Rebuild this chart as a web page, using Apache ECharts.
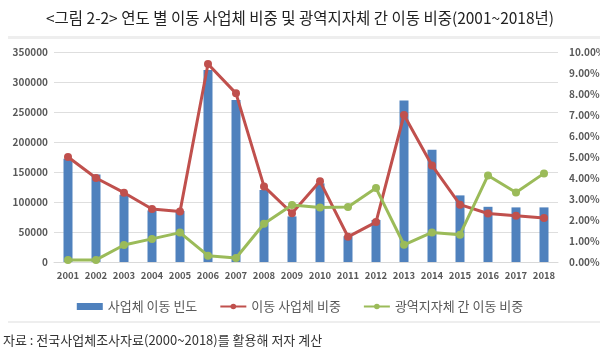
<!DOCTYPE html>
<html>
<head>
<meta charset="utf-8">
<script src="https://cdn.jsdelivr.net/npm/echarts@6/dist/echarts.min.js"></script>
<style>
html,body{margin:0;padding:0;background:#fff;}
#c{width:600px;height:355px;}
</style>
</head>
<body>
<div id="c"></div>
<script>
var years = ['2001','2002','2003','2004','2005','2006','2007','2008','2009','2010','2011','2012','2013','2014','2015','2016','2017','2018'];
var moveCount = [172000,146000,112000,86000,85000,320000,270000,120000,76000,131000,43000,70000,269000,187000,111000,92000,91000,91000];
var moveShare = [5.0,4.0,3.3,2.52,2.4,9.43,8.03,3.6,2.32,3.84,1.2,1.9,7.0,4.6,2.73,2.31,2.2,2.1];
var regionShare = [0.1,0.1,0.81,1.1,1.4,0.3,0.19,1.82,2.71,2.6,2.62,3.52,0.82,1.41,1.3,4.12,3.31,4.22];
var leftTicks = {min:0, max:350000, interval:50000};
var rightTicks = {min:0, max:10, interval:1};

var titleText = '<그림 2-2> 연도 별 이동 사업체 비중 및 광역지자체 간 이동 비중(2001~2018년)';
var sourceText = '자료 : 전국사업체조사자료(2000~2018)를 활용해 저자 계산';
var names = ['사업체 이동 빈도','이동 사업체 비중','광역지자체 간 이동 비중'];

var font = '"Noto Sans CJK KR", "Noto Sans", sans-serif';
var chart = echarts.init(document.getElementById('c'), null, {renderer:'canvas'});
chart.setOption({
  animation:false,
  textStyle:{fontFamily:font},
  title:{
    text:titleText, left:'center', top:5,
    textStyle:{fontSize:15.5, fontWeight:'normal', color:'#222', fontFamily:font}
  },
  graphic:[
    {type:'rect', shape:{x:8, y:36, width:592, height:3}, style:{fill:'#eeeeee'}},
    {type:'rect', shape:{x:8, y:321, width:592, height:2}, style:{fill:'#eeeeee'}},
    {type:'text', left:3, top:334, style:{text:sourceText, fontSize:13, fill:'#333', fontFamily:font}}
  ],
  grid:{left:54, right:42, top:52, bottom:93, containLabel:false, outerBoundsMode:'none'},
  legend:{
    top:295, left:'center', itemGap:22, itemWidth:26, itemHeight:7,
    textStyle:{fontSize:13, color:'#595959', fontFamily:font},
    data:[
      {name:names[0], icon:'rect'},
      {name:names[1]},
      {name:names[2]}
    ]
  },
  xAxis:{
    type:'category', data:years,
    axisLine:{show:true, lineStyle:{color:'#d9d9d9'}},
    axisTick:{show:false},
    axisLabel:{interval:0, fontSize:9.5, fontWeight:'bold', color:'#595959', margin:9}
  },
  yAxis:[
    {type:'value', min:leftTicks.min, max:leftTicks.max, interval:leftTicks.interval,
     axisLine:{show:false}, axisTick:{show:false},
     axisLabel:{fontSize:10, fontWeight:'bold', color:'#595959', margin:6,
       formatter:function(v){return String(v);}},
     splitLine:{lineStyle:{color:'#dedede', width:1}}},
    {type:'value', min:rightTicks.min, max:rightTicks.max, interval:rightTicks.interval,
     position:'right',
     axisLine:{show:false}, axisTick:{show:false},
     axisLabel:{fontSize:10, fontWeight:'bold', color:'#595959', margin:11,
       formatter:function(v){return v.toFixed(2)+'%';}},
     splitLine:{show:false}}
  ],
  series:[
    {name:names[0], type:'bar', data:moveCount, barWidth:9, yAxisIndex:0,
     itemStyle:{color:'#4f81bd'}},
    {name:names[1], type:'line', data:moveShare, yAxisIndex:1,
     symbol:'circle', symbolSize:8, showAllSymbol:true,
     lineStyle:{color:'#c0504d', width:3}, itemStyle:{color:'#c0504d'}},
    {name:names[2], type:'line', data:regionShare, yAxisIndex:1,
     symbol:'circle', symbolSize:8, showAllSymbol:true,
     lineStyle:{color:'#9bbb59', width:3}, itemStyle:{color:'#9bbb59'}}
  ]
});
</script>
</body>
</html>
